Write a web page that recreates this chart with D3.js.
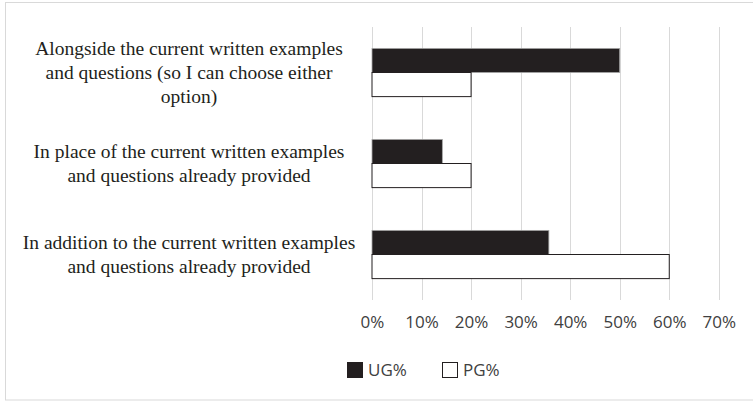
<!DOCTYPE html>
<html>
<head>
<meta charset="utf-8">
<script src="https://cdn.jsdelivr.net/npm/d3@7"></script>
<style>
  body { margin: 0; background: #fff; }
  .tick text { font-family: "Open Sans", sans-serif; font-size: 17px; fill: #404040; }
  .cat { font-family: "Liberation Serif", "Times New Roman", serif; font-size: 19.5px; fill: #231f20; }
  .legend text { font-family: "Open Sans", sans-serif; font-size: 17px; fill: #404040; }
</style>
</head>
<body>
<svg width="753" height="402"></svg>
<script>
// categories, top to bottom
const categories = [
  ['Alongside the current written examples', 'and questions (so I can choose either', 'option)'],
  ['In place of the current written examples', 'and questions already provided'],
  ['In addition to the current written examples', 'and questions already provided']
];
const seriesNames = ['UG%', 'PG%'];
const ugValues = [50, 14.2, 35.7];
const pgValues = [20, 20, 60];
const tickValues = [0, 10, 20, 30, 40, 50, 60, 70];

const margin = { top: 27, right: 34, bottom: 102, left: 372 };
const width = 753 - margin.left - margin.right;
const height = 402 - margin.top - margin.bottom;

const svg = d3.select('svg');

// outer frame (right edge runs off the canvas)
svg.append('rect')
  .attr('x', 5.5).attr('y', 2.5)
  .attr('width', 760).attr('height', 397.5)
  .attr('fill', 'none')
  .attr('stroke', '#d9d9d9');

const g = svg.append('g')
  .attr('transform', 'translate(' + margin.left + ',' + margin.top + ')');

const x = d3.scaleLinear().domain([0, 70]).range([0, 346.8]);
const y0 = d3.scaleBand().domain(d3.range(categories.length)).range([0, height])
  .paddingInner(0.47).paddingOuter(0.235);
const y1 = d3.scaleBand().domain(seriesNames).range([0, y0.bandwidth()]);

// gridlines
g.selectAll('.grid')
  .data(tickValues)
  .enter().append('line')
  .attr('x1', d => Math.round(x(d)) + 0.5)
  .attr('x2', d => Math.round(x(d)) + 0.5)
  .attr('y1', 0).attr('y2', height)
  .attr('stroke', '#d9d9d9')
  .attr('stroke-width', 1);

// axis labels
const xAxis = g.append('g')
  .attr('transform', 'translate(0,' + height + ')')
  .call(d3.axisBottom(x).tickValues(tickValues).tickFormat(d => d + '%').tickSize(0).tickPadding(16));
xAxis.select('.domain').remove();

const rows = categories.map((c, i) => ({ i, ug: ugValues[i], pg: pgValues[i] }));

const groups = g.selectAll('.grp')
  .data(rows)
  .enter().append('g')
  .attr('transform', d => 'translate(0,' + y0(d.i) + ')');

groups.append('rect')
  .attr('x', x(0))
  .attr('y', y1('UG%'))
  .attr('width', d => x(d.ug))
  .attr('height', y1.bandwidth())
  .attr('fill', '#231f20')
  .attr('stroke', '#a6a6a6')
  .attr('stroke-width', 0.8);

groups.append('rect')
  .attr('x', x(0))
  .attr('y', y1('PG%'))
  .attr('width', d => x(d.pg))
  .attr('height', y1.bandwidth())
  .attr('fill', '#fff')
  .attr('stroke', '#231f20')
  .attr('stroke-width', 1);

// category labels
const lineH = 24;
groups.append('text')
  .attr('class', 'cat')
  .attr('text-anchor', 'middle')
  .each(function (d) {
    const lines = categories[d.i];
    const t = d3.select(this);
    const start = y0.bandwidth() / 2 - (lines.length - 1) * lineH / 2;
    lines.forEach((s, k) => {
      t.append('tspan')
        .attr('x', -183)
        .attr('y', start + k * lineH)
        .attr('dy', '0.33em')
        .text(s);
    });
  });

// legend
const legend = svg.append('g').attr('class', 'legend');
const legendX = [347, 442];
seriesNames.forEach((name, k) => {
  legend.append('rect')
    .attr('x', legendX[k] + 0.5).attr('y', 362.5)
    .attr('width', 15).attr('height', 15)
    .attr('fill', k === 0 ? '#231f20' : '#fff')
    .attr('stroke', '#231f20')
    .attr('stroke-width', 1);
  legend.append('text')
    .attr('x', legendX[k] + 21)
    .attr('y', 370)
    .attr('dy', '0.35em')
    .text(name);
});
</script>
</body>
</html>
